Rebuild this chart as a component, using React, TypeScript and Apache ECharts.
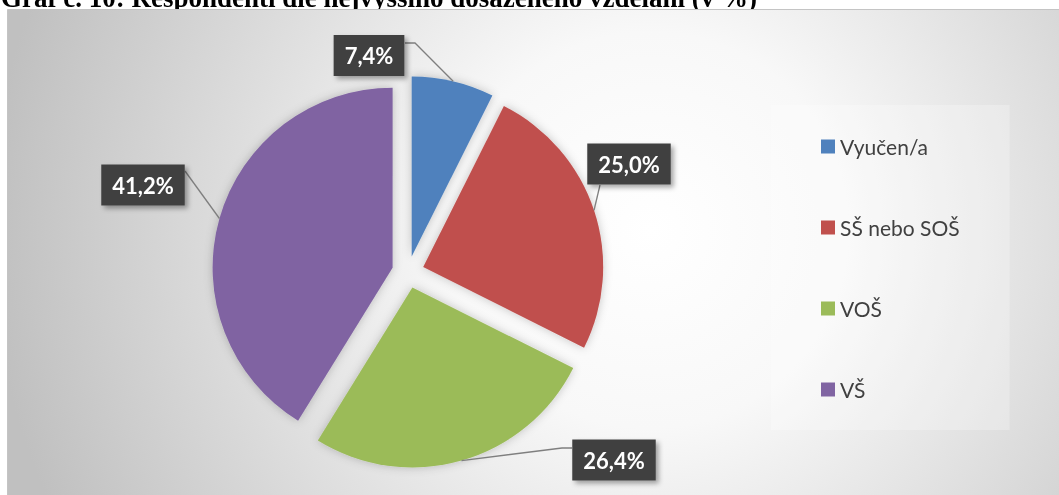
import React, { useEffect, useRef } from "react";
import * as echarts from "echarts";

// ---- data ----
const categories = ["Vyučen/a", "SŠ nebo SOŠ", "VOŠ", "VŠ"];
const values = [7.4, 25.0, 26.4, 41.2];
const valueLabels = ["7,4%", "25,0%", "26,4%", "41,2%"];
const titleText = "Graf č. 10: Respondenti dle nejvyššího dosaženého vzdělání (v %)";

// ---- style / layout ----
const colors = ["#4f81bd", "#c0504d", "#9bbb59", "#8064a2"];
const CENTER = [408, 272];
const RADIUS = 180;
const EXPLODE = 16;
const labelPos = [
  [369, 55.5],
  [629, 164],
  [614, 460],
  [143, 185],
];
const leaderEnds = [
  [[415, 43], [405, 43]],
  [[600, 185], [600, 185]],
  [[562, 448], [572, 448]],
  [[185, 171], [185, 171]],
];

export default function App() {
  const ref = useRef<HTMLDivElement>(null);

  useEffect(() => {
    if (!ref.current) return;
    const chart = echarts.init(ref.current, null, { renderer: "svg" });

    const pieBase: any = {
      type: "pie",
      center: CENTER,
      radius: RADIUS,
      startAngle: 90,
      clockwise: true,
      silent: true,
      avoidLabelOverlap: false,
      emphasis: { disabled: true },
    };

    const option: any = {
      animation: false,
      color: colors,
      graphic: [
        {
          type: "text",
          z: 0,
          style: {
            text: titleText,
            x: 1,
            y: -2,
            font: 'bold 27px "Liberation Serif"',
            fill: "#000",
            verticalAlign: "middle",
          },
        },
        {
          type: "rect",
          z: 1,
          shape: { x: 7.5, y: 9.5, width: 1060, height: 500 },
          style: {
            fill: new echarts.graphic.RadialGradient(
              650,
              230,
              660,
              [
                { offset: 0, color: "#ffffff" },
                { offset: 0.3, color: "#f8f8f8" },
                { offset: 1, color: "#c0c0c0" },
              ],
              true
            ),
            stroke: "#c4c4c4",
            lineWidth: 1,
          },
        },
      ],
      legend: {
        orient: "vertical",
        left: 771,
        top: 105,
        padding: [31, 50, 30, 50],
        itemGap: 60,
        itemWidth: 14,
        itemHeight: 14,
        icon: "rect",
        selectedMode: false,
        backgroundColor: "rgba(255,255,255,0.25)",
        textStyle: {
          fontFamily: "Lato",
          fontSize: 21,
          lineHeight: 21,
          color: "#404040",
        },
        data: categories,
      },
      series: [
        {
          ...pieBase,
          name: "slices",
          selectedMode: "multiple",
          selectedOffset: EXPLODE,
          itemStyle: {
            shadowBlur: 10,
            shadowColor: "rgba(0,0,0,0.22)",
          },
          label: { show: false },
          labelLine: { show: false },
          data: categories.map((name, i) => ({
            name,
            value: values[i],
            selected: true,
          })),
        },
        {
          ...pieBase,
          name: "labels",
          z: 3,
          itemStyle: { color: "rgba(0,0,0,0)" },
          label: {
            show: true,
            position: "outside",
            formatter: (p: any) => valueLabels[p.dataIndex],
            fontFamily: "Lato",
            fontWeight: "bold",
            fontSize: 22,
            lineHeight: 27,
            color: "#ffffff",
            backgroundColor: "#404040",
            padding: [7, 11],
            shadowBlur: 5,
            shadowOffsetX: 3,
            shadowOffsetY: 3,
            shadowColor: "rgba(0,0,0,0.35)",
          },
          labelLine: {
            show: true,
            length: 20,
            length2: 10,
            lineStyle: { color: "#7f7f7f", width: 1.3 },
          },
          labelLayout: (p: any) => {
            const i = p.dataIndex;
            const res: any = {
              x: labelPos[i][0],
              y: labelPos[i][1],
              align: "center",
              verticalAlign: "middle",
            };
            const anchor = p.labelLinePoints ? p.labelLinePoints[0] : null;
            if (anchor) {
              const ax = anchor[0] - CENTER[0];
              const ay = anchor[1] - CENTER[1];
              const len = Math.hypot(ax, ay) || 1;
              const ex = (ax / len) * EXPLODE;
              const ey = (ay / len) * EXPLODE;
              res.labelLinePoints = [
                [anchor[0] + ex, anchor[1] + ey],
                ...leaderEnds[i],
              ];
            }
            return res;
          },
          data: categories.map((name, i) => ({ name, value: values[i] })),
        },
      ],
    };

    chart.setOption(option);
    return () => chart.dispose();
  }, []);

  return (
    <div
      ref={ref}
      style={{ position: "fixed", left: 0, top: 0, width: 1059, height: 495 }}
    />
  );
}
